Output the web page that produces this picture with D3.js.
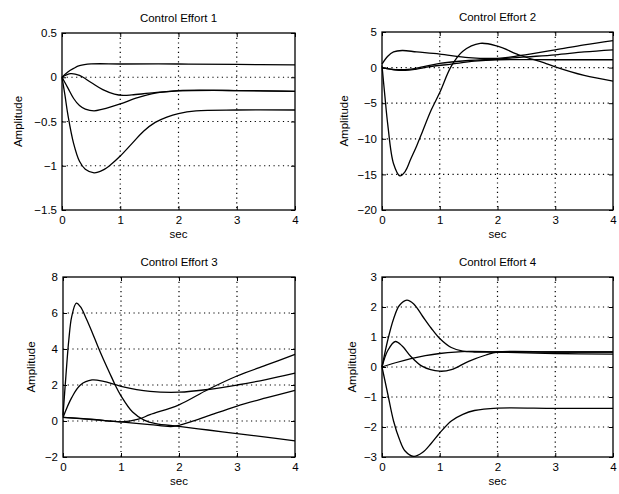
<!DOCTYPE html>
<html>
<head>
<meta charset="utf-8">
<script src="https://cdn.jsdelivr.net/npm/d3@7"></script>
<style>
  body { margin: 0; background: #fff; }
  text { font-family: "Liberation Sans", Arial, sans-serif; fill: #000; }
</style>
</head>
<body>
<div id="chart"></div>
<script>
// time samples (sec) and curve values, one array per curve
const effort1 = [
  [[0,0],[0.1,0.06],[0.2,0.1],[0.3,0.13],[0.5,0.15],[1,0.15],[2,0.15],[3,0.145],[4,0.14]],
  [[0,0],[0.15,0.04],[0.3,0.02],[0.5,-0.06],[0.7,-0.14],[0.9,-0.19],[1.05,-0.205],[1.2,-0.2],[1.5,-0.18],[2,-0.15],[3,-0.15],[4,-0.16]],
  [[0,0],[0.1,-0.12],[0.2,-0.24],[0.3,-0.32],[0.4,-0.36],[0.55,-0.38],[0.7,-0.36],[1,-0.3],[1.3,-0.23],[1.6,-0.18],[2,-0.155],[3,-0.15],[4,-0.16]],
  [[0,0],[0.05,-0.2],[0.1,-0.42],[0.2,-0.75],[0.3,-0.95],[0.4,-1.04],[0.55,-1.08],[0.7,-1.05],[0.85,-0.98],[1,-0.89],[1.2,-0.75],[1.4,-0.61],[1.6,-0.51],[1.8,-0.45],[2,-0.41],[2.3,-0.38],[3,-0.37],[4,-0.37]]
]
const effort2 = [
  [[0,0.3],[0.05,-4],[0.1,-8],[0.2,-13.5],[0.31,-15.2],[0.4,-14.6],[0.5,-12.8],[0.6,-11],[0.7,-9],[0.85,-6],[1,-3.5],[1.2,0.2],[1.4,2.3],[1.7,3.4],[2,3.0],[2.4,1.7],[2.8,0.7],[3,0.1],[3.5,-1.1],[4,-1.9]],
  [[0,0.5],[0.1,1.6],[0.2,2.2],[0.35,2.4],[0.6,2.2],[1,1.9],[1.5,1.4],[2,1.3],[2.4,1.7],[3,2.5],[3.5,3.2],[4,3.8]],
  [[0,0],[0.15,-0.2],[0.3,-0.3],[0.5,-0.2],[0.7,0.1],[1,0.6],[1.5,1.0],[2,1.2],[2.5,1.5],[3,1.8],[3.5,2.2],[4,2.5]],
  [[0,0],[0.2,-0.3],[0.4,-0.4],[0.6,-0.2],[0.8,0.1],[1.2,0.5],[1.6,0.9],[2,1.1],[3,1.1],[4,1.1]]
]
const effort3 = [
  [[0,0.3],[0.05,2.5],[0.1,4.5],[0.15,5.8],[0.23,6.55],[0.3,6.35],[0.4,5.7],[0.5,4.95],[0.6,4.15],[0.7,3.4],[0.8,2.7],[0.9,2.0],[1,1.4],[1.2,0.5],[1.4,0.05],[1.6,-0.15],[2,-0.3],[2.5,-0.5],[3,-0.7],[3.5,-0.9],[4,-1.1]],
  [[0,0.2],[0.15,1.3],[0.3,2.0],[0.5,2.28],[0.7,2.2],[1,1.93],[1.5,1.65],[2,1.6],[2.5,1.75],[3,2.0],[3.5,2.3],[4,2.66]],
  [[0,0.2],[0.5,0.1],[1,-0.05],[1.3,0.1],[1.5,0.35],[2,0.9],[2.5,1.75],[3,2.5],[3.5,3.1],[4,3.7]],
  [[0,0.2],[0.5,0.08],[1,-0.05],[1.5,-0.2],[1.9,-0.3],[2.2,-0.05],[2.5,0.28],[3,0.83],[3.5,1.28],[4,1.7]]
]
const effort4 = [
  [[0,0],[0.1,0.9],[0.2,1.6],[0.3,2.05],[0.43,2.23],[0.55,2.1],[0.7,1.7],[0.85,1.3],[1,0.95],[1.2,0.65],[1.4,0.53],[1.6,0.5],[2,0.5],[3,0.5],[4,0.5]],
  [[0,0],[0.1,0.55],[0.23,0.85],[0.35,0.7],[0.5,0.35],[0.7,0.02],[1,-0.14],[1.2,-0.09],[1.5,0.19],[1.8,0.4],[2,0.5],[3,0.5],[4,0.5]],
  [[0,0],[0.25,0.15],[0.5,0.28],[0.75,0.38],[1,0.45],[1.5,0.52],[2,0.5],[3,0.45],[4,0.43]],
  [[0,0],[0.1,-0.9],[0.2,-1.8],[0.3,-2.4],[0.4,-2.8],[0.55,-2.98],[0.7,-2.85],[0.85,-2.55],[1,-2.2],[1.2,-1.8],[1.4,-1.58],[1.6,-1.45],[2,-1.37],[3,-1.38],[4,-1.38]]
]

const xTicks = [0, 1, 2, 3, 4]
const yTicks1 = [0.5, 0, -0.5, -1, -1.5]
const yTicks2 = [5, 0, -5, -10, -15, -20]
const yTicks3 = [8, 6, 4, 2, 0, -2]
const yTicks4 = [3, 2, 1, 0, -1, -2, -3]
const titles = ["Control Effort 1", "Control Effort 2", "Control Effort 3", "Control Effort 4"]

const W = 619, H = 494
const svg = d3.select("#chart").append("svg")
  .attr("width", W)
  .attr("height", H)

// plot boxes in pixels: left, right, top, bottom
const panels = [
  {box: [62, 295, 33, 210], data: effort1, yt: yTicks1, title: titles[0], ylabX: 18},
  {box: [382, 613, 32, 210], data: effort2, yt: yTicks2, title: titles[1], ylabX: 344},
  {box: [63, 295, 277, 457], data: effort3, yt: yTicks3, title: titles[2], ylabX: 31},
  {box: [382, 613, 277, 457], data: effort4, yt: yTicks4, title: titles[3], ylabX: 352}
]

panels.forEach(function(p) {
  const [l, r, t, b] = p.box
  const w = r - l, h = b - t
  const g = svg.append("g").attr("transform", "translate(" + l + "," + t + ")")

  const x = d3.scaleLinear().domain([0, 4]).range([0, w])
  const y = d3.scaleLinear().domain(d3.extent(p.yt)).range([h, 0])

  // dotted grid
  g.append("g")
    .selectAll("line.gx")
    .data(xTicks.slice(1, -1))
    .enter().append("line")
    .attr("x1", d => x(d)).attr("x2", d => x(d))
    .attr("y1", 0).attr("y2", h)
    .attr("stroke", "#000").attr("stroke-width", 1.2)
    .attr("stroke-dasharray", "1.2,3.5")
  g.append("g")
    .selectAll("line.gy")
    .data(p.yt.slice(1, -1))
    .enter().append("line")
    .attr("x1", 0).attr("x2", w)
    .attr("y1", d => y(d)).attr("y2", d => y(d))
    .attr("stroke", "#000").attr("stroke-width", 1.2)
    .attr("stroke-dasharray", "1.2,3.5")

  // axes with inward ticks
  g.append("g")
    .attr("transform", "translate(0," + h + ")")
    .call(d3.axisBottom(x).tickValues(xTicks).tickSize(-4).tickPadding(6).tickFormat(d3.format("d")))
  g.append("g")
    .call(d3.axisLeft(y).tickValues(p.yt).tickSize(-4).tickPadding(5).tickFormat(d => String(d).replace("-", "\u2212")))
  g.append("g")
    .call(d3.axisTop(x).tickValues(xTicks).tickSize(-4).tickFormat(""))
  g.append("g")
    .attr("transform", "translate(" + w + ",0)")
    .call(d3.axisRight(y).tickValues(p.yt).tickSize(-4).tickFormat(""))

  g.selectAll(".domain").remove()
  g.selectAll(".tick line").attr("stroke", "#000").attr("stroke-width", 1)
  g.selectAll(".tick text").style("font-size", "11.5px").style("font-family", "'Liberation Sans', Arial, sans-serif")

  g.append("rect")
    .attr("width", w).attr("height", h)
    .attr("fill", "none").attr("stroke", "#000").attr("stroke-width", 1.3)

  // curves
  const line = d3.line()
    .x(d => x(d[0]))
    .y(d => y(d[1]))
    .curve(d3.curveCatmullRom.alpha(0.5))
  g.selectAll("path.curve")
    .data(p.data)
    .enter().append("path")
    .attr("class", "curve")
    .attr("d", line)
    .attr("fill", "none")
    .attr("stroke", "#000")
    .attr("stroke-width", 1.3)

  // labels
  svg.append("text")
    .attr("x", l + w / 2).attr("y", t - 11)
    .attr("text-anchor", "middle")
    .style("font-size", "11.5px")
    .text(p.title)
  svg.append("text")
    .attr("x", l + w / 2).attr("y", b + 28)
    .attr("text-anchor", "middle")
    .style("font-size", "11.5px")
    .text("sec")
  svg.append("text")
    .attr("transform", "translate(" + p.ylabX + "," + (t + h / 2) + ") rotate(-90)")
    .attr("text-anchor", "middle")
    .attr("dy", "0.35em")
    .style("font-size", "11.5px")
    .text("Amplitude")
})
</script>
</body>
</html>
